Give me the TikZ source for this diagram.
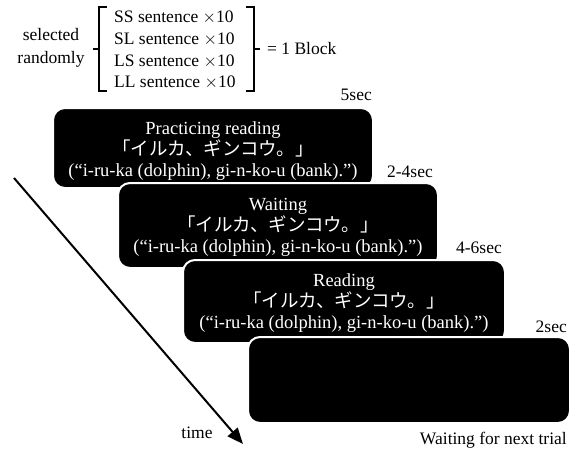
\documentclass[tikz,border=0pt]{standalone}
\usepackage{fontspec}
\setmainfont{Liberation Serif}
\newfontfamily\jpfont{Noto Sans CJK JP}
\usetikzlibrary{arrows.meta}
\tikzset{
  screen/.style={fill=black, draw=white, line width=2pt, rounded corners=12pt},
  screentext/.style={text=white, align=center, font=\fontsize{18.5}{21}\selectfont},
  lbl/.style={font=\fontsize{17.5}{20}\selectfont, inner sep=0pt},
  brk/.style={line width=2.6pt},
}
\begin{document}
\begin{tikzpicture}[x=1pt,y=-1pt]
\useasboundingbox (0,0) rectangle (580,453);
% block definition
\node[lbl, align=center, font=\fontsize{17.5}{23}\selectfont] (sel) at (51,48) {selected\\randomly};
\node[lbl, anchor=west] (ss) at (114,17) {SS sentence $\times$10};
\node[lbl, anchor=west] (sl) at (114,39) {SL sentence $\times$10};
\node[lbl, anchor=west] (ls) at (114,61) {LS sentence $\times$10};
\node[lbl, anchor=west] (ll) at (114,82) {LL sentence $\times$10};
\draw[brk] (107,7) -- (99,7) -- (99,91) -- (107,91);
\draw[brk] (99,49) -- (93,49);
\draw[brk] (246,7) -- (254,7) -- (254,91) -- (246,91);
\draw[brk] (254,49) -- (260,49);
\node[lbl, anchor=west] (blk) at (267,49) {= 1 Block};
% screens
\draw[screen] (53,108) rectangle (373,188);
\node[screentext] (s1) at (213,151) {Practicing reading\\{\jpfont 「イルカ、ギンコウ。」}\\(“i-ru-ka (dolphin), gi-n-ko-u (bank).”)};
\draw[screen] (118,183) rectangle (438,268);
\node[screentext] (s2) at (278,227) {Waiting\\{\jpfont 「イルカ、ギンコウ。」}\\(“i-ru-ka (dolphin), gi-n-ko-u (bank).”)};
\draw[screen] (183,260) rectangle (505,343);
\node[screentext] (s3) at (344,303) {Reading\\{\jpfont 「イルカ、ギンコウ。」}\\(“i-ru-ka (dolphin), gi-n-ko-u (bank).”)};
\draw[screen] (248,337) rectangle (570,423);
% durations
\node[lbl, anchor=east] (t1) at (372,95) {5sec};
\node[lbl, anchor=east] (t2) at (433,172) {2-4sec};
\node[lbl, anchor=east] (t3) at (502,248) {4-6sec};
\node[lbl, anchor=east] (t4) at (567,327) {2sec};
\node[lbl, anchor=east] (next) at (567,440) {Waiting for next trial};
% time arrow
\coordinate (a0) at (14,178);
\coordinate (a1) at (243,444);
\draw[line width=2pt, -{Triangle[length=16pt,width=13pt]}] (a0) -- (a1);
\node[lbl] (time) at (197,433) {time};
\end{tikzpicture}
\end{document}
